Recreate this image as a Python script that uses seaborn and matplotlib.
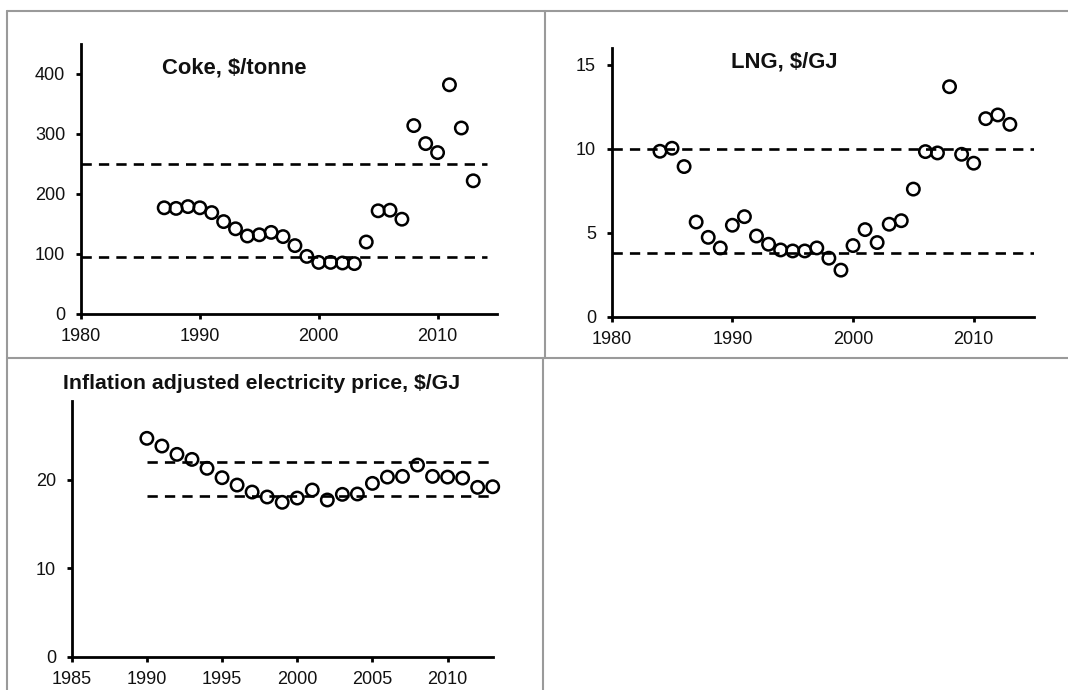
import numpy as np
import pandas as pd
import matplotlib
matplotlib.use("Agg")
import matplotlib.pyplot as plt
from matplotlib.lines import Line2D
import seaborn as sns

# ---------------- data ----------------
coke_years = list(range(1987, 2014))
coke_values = [177, 176, 179, 177, 169, 154, 142, 130, 132, 136, 129, 114, 96,
               86, 86, 85, 84, 120, 172, 173, 158, 314, 284, 269, 382, 310, 222]
coke_bands = [250, 95]

lng_years = list(range(1984, 2014))
lng_values = [9.84, 10.02, 8.93, 5.63, 4.72, 4.09, 5.44, 5.95, 4.80, 4.31,
              3.97, 3.91, 3.91, 4.09, 3.48, 2.77, 4.23, 5.18, 4.41, 5.50,
              5.71, 7.59, 9.82, 9.74, 13.68, 9.66, 9.13, 11.78, 12.00, 11.44]
lng_bands = [10.0, 3.8]

elec_years = list(range(1990, 2014))
elec_values = [24.68, 23.81, 22.87, 22.30, 21.29, 20.23, 19.40, 18.61, 18.05,
               17.45, 17.93, 18.84, 17.71, 18.35, 18.39, 19.59, 20.30, 20.38,
               21.66, 20.38, 20.30, 20.19, 19.14, 19.21]
elec_bands = [22.0, 18.2]

coke_title = "Coke, $/tonne"
lng_title = "LNG, $/GJ"
elec_title = "Inflation adjusted electricity price, $/GJ"

# ---------------- style ----------------
sns.set_theme(style="ticks")
plt.rcParams["font.family"] = ["Liberation Sans", "DejaVu Sans"]

W, H = 1068, 690
fig = plt.figure(figsize=(W / 100, H / 100), dpi=100)
fig.patch.set_facecolor("white")


def px_axes(left, right, top, bottom):
    return fig.add_axes([left / W, (H - bottom) / H, (right - left) / W, (bottom - top) / H])


def style_axes(ax, xlim, ylim, xticks, yticks):
    ax.set_xlim(*xlim)
    ax.set_ylim(*ylim)
    ax.set_xticks(xticks)
    ax.set_yticks(yticks)
    ax.set_xlabel("")
    ax.set_ylabel("")
    sns.despine(ax=ax)
    for s in ["left", "bottom"]:
        ax.spines[s].set_linewidth(2.0)
        ax.spines[s].set_color("black")
    ax.tick_params(axis="both", which="major", direction="out", length=3.8, width=2.0,
                   color="black", labelsize=13, labelcolor="#111111")
    ax.tick_params(axis="x", pad=6.5)
    ax.tick_params(axis="y", pad=7.5)
    ax.set_facecolor("none")
    ax.grid(False)


def draw_panel(ax, years, values, bands, band_span):
    df = pd.DataFrame({"year": years, "value": values})
    sns.scatterplot(data=df, x="year", y="value", ax=ax, s=80, marker="o",
                    facecolor="none", edgecolor="black", linewidth=1.8,
                    zorder=3, clip_on=False, legend=False)
    for b in bands:
        ax.hlines(b, band_span[0], band_span[1], colors="black", linewidth=1.9,
                  linestyles=(0, (3.9, 2.7)), zorder=2)


# Coke
ax1 = px_axes(81, 497, 44, 314)
draw_panel(ax1, coke_years, coke_values, coke_bands, (1980, 2014.2))
style_axes(ax1, (1980, 2015), (0, 450), [1980, 1990, 2000, 2010], [0, 100, 200, 300, 400])
ax1.text(0.195, 0.911, coke_title, transform=ax1.transAxes, ha="left", va="center",
         fontsize=15.8, fontweight="bold", color="#111111")

# LNG
ax2 = px_axes(611.7, 1034, 47.7, 316.7)
draw_panel(ax2, lng_years, lng_values, lng_bands, (1980, 2015))
style_axes(ax2, (1980, 2015), (0, 16), [1980, 1990, 2000, 2010], [0, 5, 10, 15])
ax2.text(0.282, 0.947, lng_title, transform=ax2.transAxes, ha="left", va="center",
         fontsize=15.8, fontweight="bold", color="#111111")

# Electricity
ax3 = px_axes(71.7, 492.7, 401, 656.7)
draw_panel(ax3, elec_years, elec_values, elec_bands, (1990, 2013))
style_axes(ax3, (1985, 2013), (0, 28.9), [1985, 1990, 1995, 2000, 2005, 2010], [0, 10, 20])
ax3.text(0.451, 1.07, elec_title, transform=ax3.transAxes, ha="center", va="center",
         fontsize=15.3, fontweight="bold", color="#111111")

# cell borders
grey = "#9a9a9a"
def fig_line(x0, y0, x1, y1):
    fig.add_artist(Line2D([x0 / W, x1 / W], [(H - y0) / H, (H - y1) / H],
                          transform=fig.transFigure, color=grey, linewidth=1.5))

fig_line(7, 11, W, 11)
fig_line(7, 11, 7, H)
fig_line(7, 357.5, W, 357.5)
fig_line(545, 11, 545, 357.5)
fig_line(543.3, 357.5, 543.3, H)

fig.savefig("out.png", dpi=100, facecolor="white")
